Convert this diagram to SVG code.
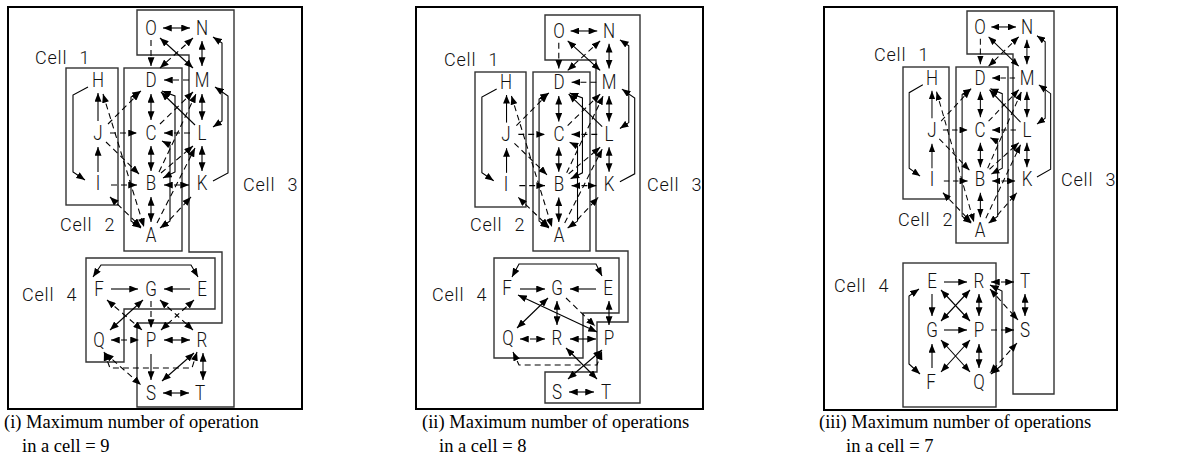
<svg xmlns="http://www.w3.org/2000/svg" width="1189" height="469" viewBox="0 0 1189 469">
<style>
.frame{fill:none;stroke:#000;stroke-width:2}
.cell{fill:none;stroke:#333;stroke-width:1.4}
.lk path{fill:none;stroke:#000;stroke-width:1.1}
.d{stroke-dasharray:6 4}
.b{marker-start:url(#ah);marker-end:url(#ah)}
.e{marker-end:url(#ah)}
.node text{font-family:Roboto,"Liberation Sans",sans-serif;font-weight:300;font-size:20px;fill:#111;text-anchor:middle;transform-box:fill-box;transform-origin:center;transform:scaleX(0.85)}
.lbl{font-family:Roboto,"Liberation Sans",sans-serif;font-weight:300;font-size:18px;fill:#111;letter-spacing:0.8px;word-spacing:7px}
.cap{font-family:"Liberation Serif","Times New Roman",serif;font-size:18.5px;fill:#000}
</style>
<defs>
<marker id="ah" viewBox="0 0 10 8" refX="10" refY="4" markerWidth="9" markerHeight="7" markerUnits="userSpaceOnUse" orient="auto-start-reverse"><path d="M0,0 L10,4 L0,8 z" fill="#000"/></marker>
</defs>
<rect width="1189" height="469" fill="#fff"/>

<!-- panel frames -->
<rect class="frame" x="8" y="7" width="294" height="402"/>
<rect class="frame" x="416" y="7" width="287" height="402"/>
<rect class="frame" x="824" y="7" width="293" height="403"/>

<!-- cell outlines, layout (i) -->
<g id="cells-i">
<rect class="cell" x="66" y="68" width="52" height="137"/>
<rect class="cell" x="124" y="68" width="58" height="183"/>
<polygon class="cell" points="137,10 234,10 234,407 137,407 137,323 222,323 222,252 189,252 189,55 137,55"/>
<polygon class="cell" points="86,258 215,258 215,309 124,309 124,362 86,362"/>
</g>
<!-- cell outlines, layout (ii) -->
<g id="cells-ii">
<rect class="cell" x="475" y="72" width="51" height="135"/>
<rect class="cell" x="533" y="72" width="57" height="179"/>
<polygon class="cell" points="545,15 640,15 640,403 545,403 545,372 597,372 597,322 628,322 628,251 596,251 596,60 545,60"/>
<polygon class="cell" points="494,258 619,258 619,313 583,313 583,358 494,358"/>
</g>
<!-- cell outlines, layout (iii) -->
<g id="cells-iii">
<rect class="cell" x="903" y="67" width="46" height="132"/>
<rect class="cell" x="956" y="67" width="52" height="176"/>
<polygon class="cell" points="967,11 1054,11 1054,394 1013,394 1013,54 967,54"/>
<rect class="cell" x="903" y="263" width="93" height="144"/>
</g>

<!-- connectors -->
<g id="connectors" class="lk">
<g id="links-i">
<g id="upper-i">
<path class="b" d="M163,28H190"/>
<path class="d e" d="M151,40V66"/>
<path class="b" d="M160,38L193,68"/>
<path class="d b" d="M193,38L160,68"/>
<path class="b" d="M202,41V66"/>
<path class="b" d="M213,37L222,43V121L213,127"/>
<path class="e" d="M213,181L228,173V96L215,87"/>
<path class="d e" d="M189,80H164"/>
<path class="b" d="M202,94V120"/>
<path class="b" d="M202,146V171"/>
<path class="b" d="M151,94V120"/>
<path class="b" d="M151,146V171"/>
<path class="b" d="M151,222V197"/>
<path class="e" d="M98,121V93"/>
<path class="e" d="M98,172V147"/>
<path class="e" d="M88,87L73,95V172L85,180"/>
<path class="d e" d="M110,133H137"/>
<path class="d e" d="M111,185H137"/>
<path class="d e" d="M190,133H164"/>
<path class="d b" d="M164,185H189"/>
<path class="d e" d="M108,124L140,92"/>
<path class="d b" d="M103,94L144,227"/>
<path class="d e" d="M106,142L139,174"/>
<path class="d b" d="M110,197L141,227"/>
<path class="e" d="M195,125L161,92"/>
<path class="d e" d="M160,124L193,92"/>
<path class="d e" d="M159,172L196,94"/>
<path class="d e" d="M161,173L193,146"/>
<path class="d e" d="M157,223L195,148"/>
<path class="d e" d="M163,227L191,197"/>
<path class="b" d="M162,91L175,96V172L163,178"/>
<path class="b" d="M162,141L170,145V221L160,228"/>
<path class="b" d="M141,91L131,97V221L141,228"/>
</g>
<path class="e" d="M111,289H138"/>
<path class="e" d="M190,289H164"/>
<path class="b" d="M93,277L101,265H191L198,277"/>
<path class="d e" d="M151,301V328"/>
<path class="b" d="M143,300L110,330"/>
<path class="d b" d="M107,300L142,330"/>
<path class="d b" d="M194,300L161,330"/>
<path class="d b" d="M160,300L193,330"/>
<path class="d b" d="M111,340H139"/>
<path class="b" d="M164,340H190"/>
<path class="e" d="M151,354V380"/>
<path class="b" d="M194,353L162,381"/>
<path class="b" d="M203,353V380"/>
<path class="b" d="M163,393H189"/>
<path class="d b" d="M105,353L141,385"/>
<path class="d b" d="M104,352L110,368H192L197,352"/>
</g>

<g id="links-ii">
<g id="upper-ii" transform="matrix(0.986,0,0,0.985,409.9,3.4)">
<path class="b" d="M163,28H190"/>
<path class="d e" d="M151,40V66"/>
<path class="b" d="M160,38L193,68"/>
<path class="d b" d="M193,38L160,68"/>
<path class="b" d="M202,41V66"/>
<path class="b" d="M213,37L222,43V121L213,127"/>
<path class="e" d="M213,181L228,173V96L215,87"/>
<path class="d e" d="M189,80H164"/>
<path class="b" d="M202,94V120"/>
<path class="b" d="M202,146V171"/>
<path class="b" d="M151,94V120"/>
<path class="b" d="M151,146V171"/>
<path class="b" d="M151,222V197"/>
<path class="e" d="M98,121V93"/>
<path class="e" d="M98,172V147"/>
<path class="e" d="M88,87L73,95V172L85,180"/>
<path class="d e" d="M110,133H137"/>
<path class="d e" d="M111,185H137"/>
<path class="d e" d="M190,133H164"/>
<path class="d b" d="M164,185H189"/>
<path class="d e" d="M108,124L140,92"/>
<path class="d b" d="M103,94L144,227"/>
<path class="d e" d="M106,142L139,174"/>
<path class="d b" d="M110,197L141,227"/>
<path class="e" d="M195,125L161,92"/>
<path class="d e" d="M160,124L193,92"/>
<path class="d e" d="M159,172L196,94"/>
<path class="d e" d="M161,173L193,146"/>
<path class="d e" d="M157,223L195,148"/>
<path class="d e" d="M163,227L191,197"/>
<path class="b" d="M162,91L175,96V172L163,178"/>
<path class="b" d="M162,141L170,145V221L160,228"/>
<path class="b" d="M141,91L131,97V221L141,228"/>
</g>
<path class="e" d="M520,289H545"/>
<path class="e" d="M596,289H570"/>
<path class="b" d="M512,277L519,264H596L602,276"/>
<path class="b" d="M548,298L517,328"/>
<path class="b" d="M518,295L597,332"/>
<path class="b" d="M557,301V325"/>
<path class="d e" d="M566,298L595,326"/>
<path class="b" d="M609,301V325"/>
<path class="d b" d="M520,339H545"/>
<path class="b" d="M570,339H596"/>
<path class="d b" d="M513,352L519,365H597L602,351"/>
<path class="b" d="M602,350L568,379"/>
<path class="b" d="M566,348L597,379"/>
<path class="b" d="M569,392H594"/>
</g>

<g id="links-iii">
<g id="upper-iii" transform="matrix(0.913,0,0,0.981,842.5,-0.5)">
<path class="b" d="M163,28H190"/>
<path class="d e" d="M151,40V66"/>
<path class="b" d="M160,38L193,68"/>
<path class="d b" d="M193,38L160,68"/>
<path class="b" d="M202,41V66"/>
<path class="b" d="M213,37L222,43V121L213,127"/>
<path class="e" d="M213,181L228,173V96L215,87"/>
<path class="d e" d="M189,80H164"/>
<path class="b" d="M202,94V120"/>
<path class="b" d="M202,146V171"/>
<path class="b" d="M151,94V120"/>
<path class="b" d="M151,146V171"/>
<path class="b" d="M151,222V197"/>
<path class="e" d="M98,121V93"/>
<path class="e" d="M98,172V147"/>
<path class="e" d="M88,87L73,95V172L85,180"/>
<path class="d e" d="M110,133H137"/>
<path class="d e" d="M111,185H137"/>
<path class="d e" d="M190,133H164"/>
<path class="d b" d="M164,185H189"/>
<path class="d e" d="M108,124L140,92"/>
<path class="d b" d="M103,94L144,227"/>
<path class="d e" d="M106,142L139,174"/>
<path class="d b" d="M110,197L141,227"/>
<path class="e" d="M195,125L161,92"/>
<path class="d e" d="M160,124L193,92"/>
<path class="d e" d="M159,172L196,94"/>
<path class="d e" d="M161,173L193,146"/>
<path class="d e" d="M157,223L195,148"/>
<path class="d e" d="M163,227L191,197"/>
<path class="b" d="M162,91L175,96V172L163,178"/>
<path class="b" d="M162,141L170,145V221L160,228"/>
<path class="b" d="M141,91L131,97V221L141,228"/>
</g>
<path class="e" d="M944,282H967"/>
<path class="d b" d="M991,282H1014"/>
<path class="e" d="M932,294V316"/>
<path class="b" d="M941,290L970,321"/>
<path class="b" d="M970,290L941,321"/>
<path class="b" d="M979,294V316"/>
<path class="b" d="M1025,294V316"/>
<path class="d b" d="M990,289L1018,320"/>
<path class="e" d="M944,330H967"/>
<path class="d e" d="M991,330H1014"/>
<path class="e" d="M932,368V344"/>
<path class="b" d="M941,340L970,372"/>
<path class="b" d="M970,340L941,372"/>
<path class="b" d="M979,344V368"/>
<path class="b" d="M919,289L909,296V364L920,374"/>
<path class="b" d="M990,285L1002,291V365L991,374"/>
<path class="d b" d="M1017,343L990,373"/>
</g>
</g>

<!-- nodes, layout (i) -->
<g id="i-O" class="node"><text x="151" y="35">O</text></g>
<g id="i-N" class="node"><text x="202" y="35">N</text></g>
<g id="i-H" class="node"><text x="98" y="87">H</text></g>
<g id="i-D" class="node"><text x="151" y="87">D</text></g>
<g id="i-M" class="node"><text x="202" y="87">M</text></g>
<g id="i-J" class="node"><text x="98" y="140">J</text></g>
<g id="i-C" class="node"><text x="151" y="140">C</text></g>
<g id="i-L" class="node"><text x="202" y="140">L</text></g>
<g id="i-I" class="node"><text x="98" y="190">I</text></g>
<g id="i-B" class="node"><text x="151" y="190">B</text></g>
<g id="i-K" class="node"><text x="202" y="190">K</text></g>
<g id="i-A" class="node"><text x="151" y="242">A</text></g>
<g id="i-F" class="node"><text x="99" y="296">F</text></g>
<g id="i-G" class="node"><text x="151" y="296">G</text></g>
<g id="i-E" class="node"><text x="202" y="296">E</text></g>
<g id="i-Q" class="node"><text x="99" y="347">Q</text></g>
<g id="i-P" class="node"><text x="151" y="347">P</text></g>
<g id="i-R" class="node"><text x="202" y="347">R</text></g>
<g id="i-S" class="node"><text x="151" y="400">S</text></g>
<g id="i-T" class="node"><text x="200" y="400">T</text></g>
<text class="lbl" x="35" y="64">Cell 1</text>
<text class="lbl" x="60" y="231">Cell 2</text>
<text class="lbl" x="243" y="191">Cell 3</text>
<text class="lbl" x="22" y="301">Cell 4</text>

<!-- nodes, layout (ii) -->
<g id="ii-O" class="node"><text x="559" y="38">O</text></g>
<g id="ii-N" class="node"><text x="609" y="38">N</text></g>
<g id="ii-H" class="node"><text x="506" y="89">H</text></g>
<g id="ii-D" class="node"><text x="559" y="89">D</text></g>
<g id="ii-M" class="node"><text x="609" y="89">M</text></g>
<g id="ii-J" class="node"><text x="506" y="141">J</text></g>
<g id="ii-C" class="node"><text x="559" y="141">C</text></g>
<g id="ii-L" class="node"><text x="609" y="141">L</text></g>
<g id="ii-I" class="node"><text x="506" y="191">I</text></g>
<g id="ii-B" class="node"><text x="559" y="191">B</text></g>
<g id="ii-K" class="node"><text x="609" y="191">K</text></g>
<g id="ii-A" class="node"><text x="559" y="242">A</text></g>
<g id="ii-F" class="node"><text x="507" y="295">F</text></g>
<g id="ii-G" class="node"><text x="557" y="295">G</text></g>
<g id="ii-E" class="node"><text x="608" y="295">E</text></g>
<g id="ii-Q" class="node"><text x="508" y="345">Q</text></g>
<g id="ii-R" class="node"><text x="557" y="345">R</text></g>
<g id="ii-P" class="node"><text x="609" y="345">P</text></g>
<g id="ii-S" class="node"><text x="557" y="399">S</text></g>
<g id="ii-T" class="node"><text x="606" y="399">T</text></g>
<text class="lbl" x="444" y="66">Cell 1</text>
<text class="lbl" x="470" y="231">Cell 2</text>
<text class="lbl" x="647" y="191">Cell 3</text>
<text class="lbl" x="432" y="301">Cell 4</text>

<!-- nodes, layout (iii) -->
<g id="iii-O" class="node"><text x="980" y="34">O</text></g>
<g id="iii-N" class="node"><text x="1027" y="34">N</text></g>
<g id="iii-H" class="node"><text x="932" y="85">H</text></g>
<g id="iii-D" class="node"><text x="980" y="85">D</text></g>
<g id="iii-M" class="node"><text x="1027" y="85">M</text></g>
<g id="iii-J" class="node"><text x="932" y="137">J</text></g>
<g id="iii-C" class="node"><text x="980" y="137">C</text></g>
<g id="iii-L" class="node"><text x="1027" y="137">L</text></g>
<g id="iii-I" class="node"><text x="932" y="186">I</text></g>
<g id="iii-B" class="node"><text x="980" y="186">B</text></g>
<g id="iii-K" class="node"><text x="1027" y="186">K</text></g>
<g id="iii-A" class="node"><text x="980" y="237">A</text></g>
<g id="iii-E" class="node"><text x="932" y="288">E</text></g>
<g id="iii-R" class="node"><text x="979" y="288">R</text></g>
<g id="iii-T" class="node"><text x="1025" y="288">T</text></g>
<g id="iii-G" class="node"><text x="932" y="337">G</text></g>
<g id="iii-P" class="node"><text x="979" y="337">P</text></g>
<g id="iii-S" class="node"><text x="1025" y="337">S</text></g>
<g id="iii-F" class="node"><text x="931" y="389">F</text></g>
<g id="iii-Q" class="node"><text x="979" y="389">Q</text></g>
<text class="lbl" x="874" y="61">Cell 1</text>
<text class="lbl" x="898" y="226">Cell 2</text>
<text class="lbl" x="1061" y="186">Cell 3</text>
<text class="lbl" x="834" y="292">Cell 4</text>

<!-- captions -->
<text class="cap" x="4" y="428">(i) Maximum number of operation</text>
<text class="cap" x="22" y="452">in a cell = 9</text>
<text class="cap" x="422" y="428">(ii) Maximum number of operations</text>
<text class="cap" x="439" y="452">in a cell = 8</text>
<text class="cap" x="819" y="428">(iii) Maximum number of operations</text>
<text class="cap" x="846" y="452">in a cell = 7</text>
</svg>
